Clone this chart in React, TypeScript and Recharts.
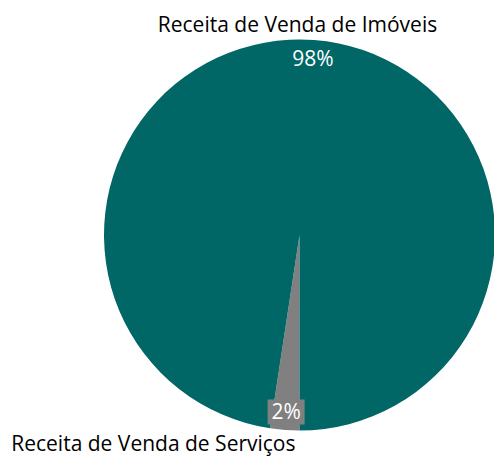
import { PieChart, Pie, Cell } from 'recharts';

const categories = ['Receita de Venda de Serviços', 'Receita de Venda de Imóveis'];
const shares = [2.4, 97.6];
const colors = ['#808080', '#006666'];

const data = categories.map((name, i) => ({ name, value: shares[i] }));

const RAD = Math.PI / 180;
const FONT = '"Open Sans", sans-serif';
const FS = 21;

function renderLabel(props: any) {
  const { cx, cy, midAngle, outerRadius, percent, index } = props;
  const r = outerRadius - 18;
  const x = cx + r * Math.cos(-midAngle * RAD);
  const y = cy + r * Math.sin(-midAngle * RAD);
  const pct = `${Math.round(percent * 100)}%`;
  if (index === 0) {
    // small slice: boxed label, category name below left
    return (
      <g>
        <rect x={x - 18.5} y={y - 12.5} width={37} height={25} fill="#808080" />
        <text x={x} y={y + 7.5} fill="#fff" fontSize={FS} fontFamily={FONT} textAnchor="middle">
          {pct}
        </text>
        <text x={cx - 4} y={cy + outerRadius + 20.5} fill="#000" fontSize={FS} fontFamily={FONT} textAnchor="end">
          {categories[index]}
        </text>
      </g>
    );
  }
  return (
    <g>
      <text x={x} y={y + 7.5} fill="#fff" fontSize={FS} fontFamily={FONT} textAnchor="middle">
        {pct}
      </text>
      <text x={cx - 2} y={cy - outerRadius - 7.5} fill="#000" fontSize={FS} fontFamily={FONT} textAnchor="middle">
        {categories[index]}
      </text>
    </g>
  );
}

export default function App() {
  return (
    <div style={{ position: 'absolute', left: 0, top: 0, width: 494, height: 457, background: '#fff' }}>
      <PieChart width={494} height={457} margin={{ top: 0, right: 0, bottom: 0, left: 0 }}>
        <Pie
          data={data}
          dataKey="value"
          nameKey="name"
          cx={299.5}
          cy={235}
          outerRadius={195.5}
          startAngle={-90}
          endAngle={-450}
          stroke="none"
          labelLine={false}
          label={renderLabel}
          isAnimationActive={false}
        >
          {data.map((d, i) => (
            <Cell key={d.name} fill={colors[i]} />
          ))}
        </Pie>
      </PieChart>
    </div>
  );
}
